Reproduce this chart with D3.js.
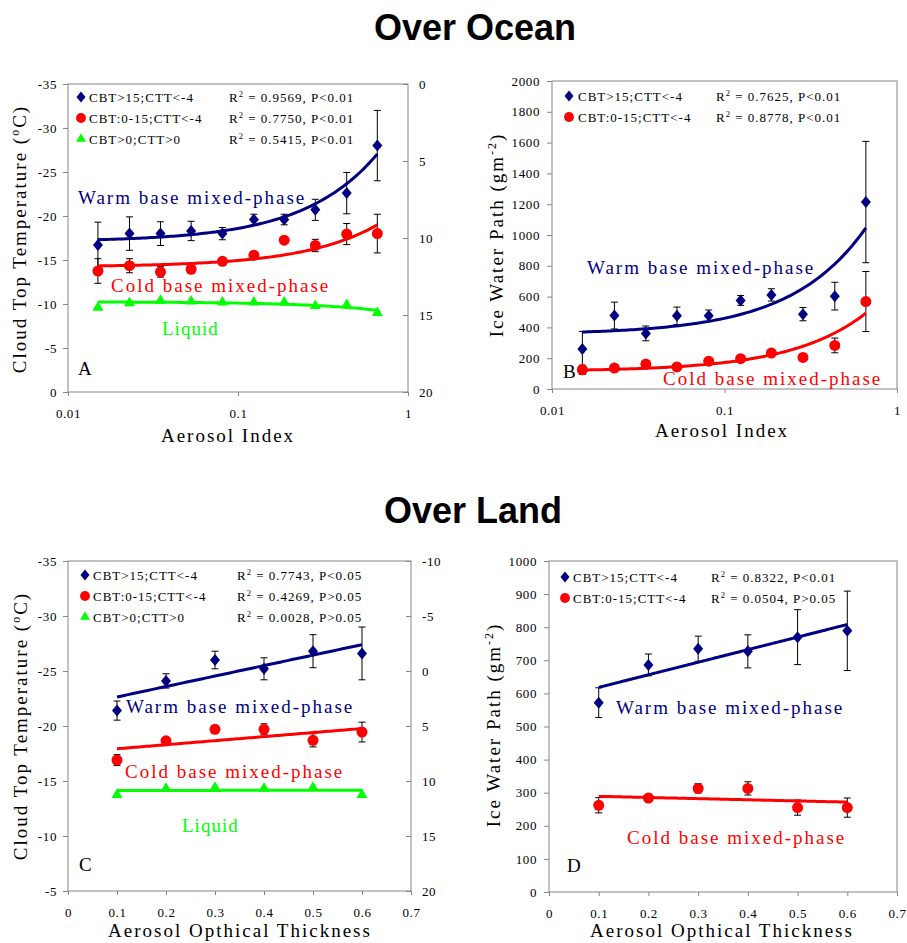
<!DOCTYPE html>
<html><head><meta charset="utf-8">
<script src="https://cdn.jsdelivr.net/npm/d3@7"></script>
<style>body{margin:0;background:#fff} svg{display:block}</style>
</head><body><svg id="c" width="907" height="943"></svg>
<script>
// ---------- DATA ----------
const oceanAI = [0.015, 0.023, 0.035, 0.053, 0.081, 0.124, 0.187, 0.285, 0.436, 0.66];
const aWarm = [-16.7, -18.0, -18.0, -18.3, -18.0, -19.6, -19.6, -20.7, -22.6, -28.0];
const aWarmErr = [2.6, 1.9, 1.35, 1.1, 0.7, 0.6, 0.6, 1.2, 2.35, 4.0];
const aCold = [-13.75, -14.35, -13.65, -13.95, -14.85, -15.55, -17.25, -16.65, -17.95, -18.0];
const aColdErr = [1.4, 0.8, 0.6, 0.3, 0.2, 0.2, 0.2, 0.7, 1.2, 2.2];
const aLiquid = [-9.6, -10.1, -10.4, -10.3, -10.2, -10.2, -10.2, -9.8, -9.9, -9.0];

const bWarm = [259, 477, 361, 475, 475, 575, 611, 486, 603, 1214];
const bWarmErr = [115, 87, 48, 57, 38, 32, 40, 43, 90, 394];
const bCold = [125, 136, 162, 143, 181, 197, 233, 205, 283, 568];
const bColdErr = [30, 12, 12, 10, 10, 10, 10, 10, 48, 195];

const landAOT = [0.1, 0.2, 0.3, 0.4, 0.5, 0.6];
const cWarm = [-21.4, -24.1, -26.0, -25.2, -26.8, -26.6];
const cWarmErr = [0.87, 0.65, 0.8, 1.0, 1.5, 2.4];
const cCold = [-16.9, -18.65, -19.7, -19.7, -18.7, -19.45];
const cColdErr = [0.5, 0.3, 0.3, 0.5, 0.6, 0.9];
const cLiquid = [-13.75, -14.3, -14.4, -14.3, -14.4, -13.75];

const dWarm = [572, 686, 735, 727, 770, 789];
const dWarmErr = [45, 33, 38, 50, 83, 120];
const dCold = [262, 284, 313, 313, 255, 255];
const dColdErr = [23, 8, 14, 20, 23, 29];

const legendNames = ["CBT>15;CTT<-4", "CBT:0-15;CTT<-4", "CBT>0;CTT>0"];
const aStats = [" = 0.9569, P<0.01", " = 0.7750, P<0.01", " = 0.5415, P<0.01"];
const bStats = [" = 0.7625, P<0.01", " = 0.8778, P<0.01"];
const cStats = [" = 0.7743, P<0.05", " = 0.4269, P>0.05", " = 0.0028, P>0.05"];
const dStats = [" = 0.8322, P<0.01", " = 0.0504, P>0.05"];

const tempTicks = [-35, -30, -25, -20, -15, -10, -5, 0];
const aRightTicks = [0, 5, 10, 15, 20];
const cTempTicks = [-35, -30, -25, -20, -15, -10, -5];
const cRightTicks = [-10, -5, 0, 5, 10, 15, 20];
const iwpTicksB = [0, 200, 400, 600, 800, 1000, 1200, 1400, 1600, 1800, 2000];
const iwpTicksD = [0, 100, 200, 300, 400, 500, 600, 700, 800, 900, 1000];
const aiTicks = [0.01, 0.1, 1];
const aotTicks = [0, 0.1, 0.2, 0.3, 0.4, 0.5, 0.6, 0.7];

// ---------- STYLE ----------
const SERIF = "'Liberation Serif','Times New Roman',serif";
const SANS = "'Liberation Sans',Arial,sans-serif";
const NAVY = "#000080", RED = "#ff0000", GREEN = "#00ff00", FRAME = "#868686";

const svg = d3.select("#c");

const diamond = { draw(ctx, size) { const h = 6, w = 5; ctx.moveTo(0, -h); ctx.lineTo(w, 0); ctx.lineTo(0, h); ctx.lineTo(-w, 0); ctx.closePath(); } };
const SHAPES = {
  diamond: d3.symbol().type(diamond)(),
  circle: d3.symbol().type(d3.symbolCircle).size(95)(),
  triangle: d3.symbol().type(d3.symbolTriangle).size(52)()
};

function linreg(xs, ys) {
  const mx = d3.mean(xs), my = d3.mean(ys);
  let sxy = 0, sxx = 0;
  xs.forEach((x, i) => { sxy += (x - mx) * (ys[i] - my); sxx += (x - mx) * (x - mx); });
  const b = sxy / sxx;
  return { a: my - b * mx, b };
}

function drawPanel(p) {
  const g = svg.append("g");
  const x = (p.logX ? d3.scaleLog() : d3.scaleLinear()).domain(p.xDomain).range([p.l, p.r]);
  const y = d3.scaleLinear().domain(p.yDomain).range([p.t, p.b]);

  g.append("rect").attr("x", p.l).attr("y", p.t).attr("width", p.r - p.l).attr("height", p.b - p.t)
    .attr("fill", "none").attr("stroke", FRAME).attr("stroke-width", 1);

  const styleAxis = (ax) => {
    ax.attr("font-family", SERIF).attr("font-size", 13);
    ax.select(".domain").remove();
    ax.selectAll("line").attr("stroke", FRAME);
    ax.selectAll("text").attr("fill", "#000").attr("letter-spacing", 0.6);
  };
  const ya = g.append("g").attr("transform", `translate(${p.l},0)`)
    .call(d3.axisLeft(y).tickValues(p.yTicks).tickFormat(d => String(d)).tickSize(5).tickPadding(p.yPad));
  styleAxis(ya);
  const xa = g.append("g").attr("transform", `translate(0,${p.b})`)
    .call(d3.axisBottom(x).tickValues(p.xTicks).tickFormat(d => String(d)).tickSize(4).tickPadding(13));
  styleAxis(xa);
  if (p.rDomain) {
    const yr = d3.scaleLinear().domain(p.rDomain).range([p.t, p.b]);
    const ra = g.append("g").attr("transform", `translate(${p.r},0)`)
      .call(d3.axisRight(yr).tickValues(p.rTicks).tickFormat(d => String(d)).tickSize(-5).tickPadding(11));
    styleAxis(ra);
  }

  // error bars
  p.series.forEach(s => {
    const eg = g.append("g").attr("stroke", "#000").attr("stroke-width", 1);
    s.ys.forEach((v, i) => {
      const e = s.err ? s.err[i] : 0;
      if (!e) return;
      const cx = x(s.xs[i]), y1 = y(v - e), y2 = y(v + e);
      eg.append("line").attr("x1", cx).attr("x2", cx).attr("y1", y1).attr("y2", y2);
      eg.append("line").attr("x1", cx - 3.5).attr("x2", cx + 3.5).attr("y1", y1).attr("y2", y1);
      eg.append("line").attr("x1", cx - 3.5).attr("x2", cx + 3.5).attr("y1", y2).attr("y2", y2);
    });
  });
  // fits and markers
  p.series.forEach(s => {
    const fit = linreg(s.xs, s.ys);
    const x0 = d3.min(s.xs), x1 = d3.max(s.xs);
    const pts = d3.range(0, 101).map(k => p.logX ? x0 * Math.pow(x1 / x0, k / 100) : x0 + (x1 - x0) * k / 100);
    g.append("path").attr("d", d3.line().x(d => x(d)).y(d => y(fit.a + fit.b * d))(pts))
      .attr("fill", "none").attr("stroke", s.color).attr("stroke-width", 3);
    g.append("g").selectAll("path").data(s.ys).join("path")
      .attr("d", SHAPES[s.shape]).attr("fill", s.color)
      .attr("transform", (d, i) => `translate(${x(s.xs[i])},${y(d)})`);
  });

  // legend
  p.series.forEach((s, i) => {
    const ly = p.leg.y[i];
    g.append("path").attr("d", SHAPES[s.shape]).attr("fill", s.color)
      .attr("transform", `translate(${p.leg.mx},${ly}) scale(0.9)`);
    g.append("text").attr("x", p.leg.tx).attr("y", ly + 4.5).attr("font-family", SERIF).attr("font-size", 13)
      .attr("letter-spacing", 1).text(legendNames[i]);
    const st = g.append("text").attr("x", p.leg.rx).attr("y", ly + 4.5).attr("font-family", SERIF).attr("font-size", 13)
      .attr("letter-spacing", 1);
    st.append("tspan").text("R");
    st.append("tspan").attr("dy", -5).attr("font-size", 8.5).text("2");
    st.append("tspan").attr("dy", 5).text(p.stats[i]);
  });

  // annotations
  p.notes.forEach(n => {
    g.append("text").attr("x", n.x).attr("y", n.y).attr("font-family", SERIF).attr("font-size", 19)
      .attr("letter-spacing", n.ls === undefined ? 2 : n.ls).attr("fill", n.color).text(n.text);
  });

  // axis titles
  g.append("text").attr("x", p.xt.x).attr("y", p.xt.y).attr("text-anchor", "middle")
    .attr("font-family", SERIF).attr("font-size", 19).attr("letter-spacing", 2).text(p.xTitle);
  const yt = g.append("text").attr("transform", `translate(${p.yt.x},${p.yt.y}) rotate(-90)`)
    .attr("text-anchor", "middle").attr("font-family", SERIF).attr("font-size", 19).attr("letter-spacing", 2);
  p.yTitle.forEach(part => {
    const ts = yt.append("tspan").text(part.t);
    if (part.sup) ts.attr("dy", -7).attr("font-size", 12);
    if (part.after) ts.attr("dy", 7);
  });
}

const tempTitle = [{ t: "Cloud Top Temperature (" }, { t: "o", sup: true }, { t: "C)", after: true }];
const iwpTitle = [{ t: "Ice Water Path (gm" }, { t: "-2", sup: true }, { t: ")", after: true }];

drawPanel({
  l: 68, r: 408, t: 84, b: 392, logX: true, xDomain: [0.01, 1], xTicks: aiTicks,
  yDomain: [-35, 0], yTicks: tempTicks, yPad: 6, rDomain: [0, 20], rTicks: aRightTicks,
  series: [
    { xs: oceanAI, ys: aWarm, err: aWarmErr, color: NAVY, shape: "diamond" },
    { xs: oceanAI, ys: aCold, err: aColdErr, color: RED, shape: "circle" },
    { xs: oceanAI, ys: aLiquid, err: null, color: GREEN, shape: "triangle" }
  ],
  leg: { mx: 81, tx: 89, rx: 229, y: [97, 118, 139] }, stats: aStats,
  notes: [
    { x: 78, y: 204, text: "Warm base mixed-phase", color: NAVY },
    { x: 111, y: 292, text: "Cold base mixed-phase", color: RED },
    { x: 162, y: 335, text: "Liquid", color: GREEN, ls: 1 },
    { x: 78, y: 375, text: "A", color: "#000", ls: 0 }
  ],
  xTitle: "Aerosol Index", xt: { x: 228, y: 442 }, yTitle: tempTitle, yt: { x: 26, y: 239 }
});

drawPanel({
  l: 552, r: 897, t: 81, b: 389, logX: true, xDomain: [0.01, 1], xTicks: aiTicks,
  yDomain: [2000, 0], yTicks: iwpTicksB, yPad: 7,
  series: [
    { xs: oceanAI, ys: bWarm, err: bWarmErr, color: NAVY, shape: "diamond" },
    { xs: oceanAI, ys: bCold, err: bColdErr, color: RED, shape: "circle" }
  ],
  leg: { mx: 569, tx: 578, rx: 716, y: [96, 117] }, stats: bStats,
  notes: [
    { x: 587, y: 274, text: "Warm base mixed-phase", color: NAVY },
    { x: 663, y: 385, text: "Cold base mixed-phase", color: RED },
    { x: 563, y: 378, text: "B", color: "#000", ls: 0 }
  ],
  xTitle: "Aerosol Index", xt: { x: 722, y: 437 }, yTitle: iwpTitle, yt: { x: 503, y: 235 }
});

drawPanel({
  l: 68, r: 411, t: 561, b: 891, logX: false, xDomain: [0, 0.7], xTicks: aotTicks,
  yDomain: [-35, -5], yTicks: cTempTicks, yPad: 6, rDomain: [-10, 20], rTicks: cRightTicks,
  series: [
    { xs: landAOT, ys: cWarm, err: cWarmErr, color: NAVY, shape: "diamond" },
    { xs: landAOT, ys: cCold, err: cColdErr, color: RED, shape: "circle" },
    { xs: landAOT, ys: cLiquid, err: null, color: GREEN, shape: "triangle" }
  ],
  leg: { mx: 85, tx: 93, rx: 237, y: [575, 596, 617] }, stats: cStats,
  notes: [
    { x: 126, y: 713, text: "Warm base mixed-phase", color: NAVY },
    { x: 125, y: 778, text: "Cold base mixed-phase", color: RED },
    { x: 182, y: 832, text: "Liquid", color: GREEN, ls: 1 },
    { x: 79, y: 871, text: "C", color: "#000", ls: 0 }
  ],
  xTitle: "Aerosol Opthical Thickness", xt: { x: 240, y: 937 }, yTitle: tempTitle, yt: { x: 27, y: 726 }
});

drawPanel({
  l: 549, r: 897, t: 561, b: 892, logX: false, xDomain: [0, 0.7], xTicks: aotTicks,
  yDomain: [1000, 0], yTicks: iwpTicksD, yPad: 7,
  series: [
    { xs: landAOT, ys: dWarm, err: dWarmErr, color: NAVY, shape: "diamond" },
    { xs: landAOT, ys: dCold, err: dColdErr, color: RED, shape: "circle" }
  ],
  leg: { mx: 565, tx: 573, rx: 711, y: [577, 598] }, stats: dStats,
  notes: [
    { x: 616, y: 714, text: "Warm base mixed-phase", color: NAVY },
    { x: 627, y: 844, text: "Cold base mixed-phase", color: RED },
    { x: 567, y: 872, text: "D", color: "#000", ls: 0 }
  ],
  xTitle: "Aerosol Opthical Thickness", xt: { x: 722, y: 937 }, yTitle: iwpTitle, yt: { x: 500, y: 725 }
});

// big titles
svg.append("text").attr("x", 475).attr("y", 40).attr("text-anchor", "middle").attr("font-family", SANS)
  .attr("font-weight", "bold").attr("font-size", 36).text("Over Ocean");
svg.append("text").attr("x", 473).attr("y", 523).attr("text-anchor", "middle").attr("font-family", SANS)
  .attr("font-weight", "bold").attr("font-size", 36).text("Over Land");
</script></body></html>
